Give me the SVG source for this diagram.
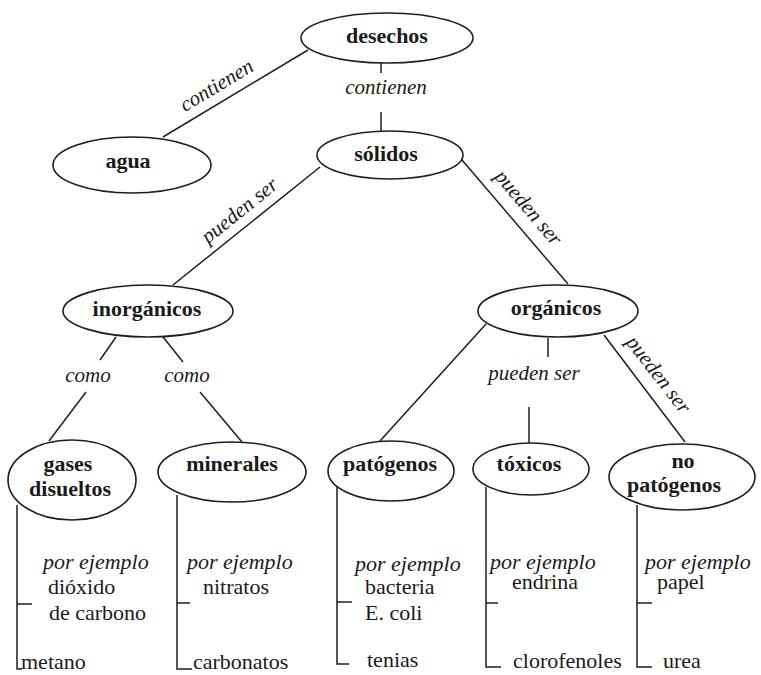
<svg xmlns="http://www.w3.org/2000/svg" width="761" height="675" viewBox="0 0 761 675" font-family="'Liberation Serif', 'DejaVu Serif', serif">
  <style>
    text { font-family: 'Liberation Serif', 'DejaVu Serif', serif; fill: #1a1a1a; }
    .node ellipse { fill: #ffffff; stroke: #1e1e1e; stroke-width: 1.6; }
    .node text { font-weight: bold; font-size: 22px; text-anchor: middle; }
    .links line, .links polyline { stroke: #1e1e1e; stroke-width: 1.5; fill: none; }
    .lbl { font-style: italic; font-size: 21px; text-anchor: middle; }
    .ex { font-style: italic; font-size: 22px; }
    .item { font-size: 22px; }
  </style>
  <rect width="761" height="675" fill="#ffffff"/>

  <!-- connectors and their labels -->
  <g id="connectors" class="links">
    <!-- desechos -> agua -->
    <line x1="308" y1="50" x2="163" y2="137"/>
    <text class="lbl" transform="translate(217,86) rotate(-31)" x="0" y="6">contienen</text>
    <!-- desechos -> sólidos -->
    <line x1="381" y1="63" x2="381" y2="73"/>
    <text class="lbl" x="386" y="94">contienen</text>
    <line x1="381" y1="112" x2="381" y2="132"/>
    <!-- sólidos -> inorgánicos -->
    <line x1="320" y1="167" x2="173" y2="285"/>
    <text class="lbl" transform="translate(240,211) rotate(-38.8)" x="0" y="6">pueden ser</text>
    <!-- sólidos -> orgánicos -->
    <line x1="462" y1="160" x2="568" y2="284"/>
    <text class="lbl" transform="translate(528,208) rotate(49.5)" x="0" y="6">pueden ser</text>
    <!-- inorgánicos -> gases disueltos -->
    <line x1="116" y1="337" x2="100" y2="360"/>
    <text class="lbl" x="88" y="382">como</text>
    <line x1="86" y1="392" x2="49" y2="441"/>
    <!-- inorgánicos -> minerales -->
    <line x1="163" y1="337" x2="183" y2="362"/>
    <text class="lbl" x="187" y="382">como</text>
    <line x1="200" y1="392" x2="242" y2="442"/>
    <!-- orgánicos -> patógenos -->
    <line x1="486" y1="324" x2="380" y2="441"/>
    <!-- orgánicos -> tóxicos -->
    <line x1="548" y1="338" x2="548" y2="357"/>
    <text class="lbl" x="534" y="380">pueden ser</text>
    <line x1="529" y1="407" x2="529" y2="443"/>
    <!-- orgánicos -> no patógenos -->
    <line x1="604" y1="335" x2="685" y2="442"/>
    <text class="lbl" transform="translate(658,375) rotate(52.5)" x="0" y="6">pueden ser</text>

    <!-- example brackets -->
    <polyline points="17,505 17,669 22,669"/>
    <line x1="17" y1="604" x2="32" y2="604"/>
    <polyline points="177,495 177,669 192,669"/>
    <line x1="177" y1="603" x2="190" y2="603"/>
    <polyline points="337,487 337,664 349,664"/>
    <line x1="337" y1="602" x2="352" y2="602"/>
    <polyline points="486,487 486,667 501,667"/>
    <line x1="486" y1="603" x2="498" y2="603"/>
    <polyline points="637,505 637,667 652,667"/>
    <line x1="637" y1="603" x2="652" y2="603"/>
  </g>

  <!-- nodes -->
  <g id="desechos" class="node">
    <ellipse cx="387" cy="38" rx="86" ry="25"/>
    <text x="387" y="43">desechos</text>
  </g>
  <g id="agua" class="node">
    <ellipse cx="132" cy="165" rx="79" ry="28"/>
    <text x="128" y="168">agua</text>
  </g>
  <g id="solidos" class="node">
    <ellipse cx="390" cy="155" rx="73" ry="24"/>
    <text x="386" y="161">sólidos</text>
  </g>
  <g id="inorganicos" class="node">
    <ellipse cx="148" cy="311" rx="85" ry="26"/>
    <text x="147" y="316">inorgánicos</text>
  </g>
  <g id="organicos" class="node">
    <ellipse cx="558" cy="311" rx="80" ry="26"/>
    <text x="556" y="315">orgánicos</text>
  </g>
  <g id="gases-disueltos" class="node">
    <ellipse cx="72" cy="480" rx="64" ry="40"/>
    <text x="68" y="471">gases</text>
    <text x="70" y="496">disueltos</text>
  </g>
  <g id="minerales" class="node">
    <ellipse cx="232" cy="472" rx="74" ry="30"/>
    <text x="232" y="471">minerales</text>
  </g>
  <g id="patogenos" class="node">
    <ellipse cx="391" cy="471" rx="63" ry="30"/>
    <text x="390" y="471">patógenos</text>
  </g>
  <g id="toxicos" class="node">
    <ellipse cx="531" cy="469" rx="58" ry="26"/>
    <text x="529" y="471">tóxicos</text>
  </g>
  <g id="no-patogenos" class="node">
    <ellipse cx="682" cy="477" rx="73" ry="33"/>
    <text x="683" y="468">no</text>
    <text x="674" y="492">patógenos</text>
  </g>

  <!-- examples -->
  <g id="ejemplos-gases">
    <text class="ex" x="43" y="569">por ejemplo</text>
    <text class="item" x="48" y="594">dióxido</text>
    <text class="item" x="49" y="620">de carbono</text>
    <text class="item" x="21" y="669">metano</text>
  </g>
  <g id="ejemplos-minerales">
    <text class="ex" x="187" y="569">por ejemplo</text>
    <text class="item" x="203" y="594">nitratos</text>
    <text class="item" x="193" y="669">carbonatos</text>
  </g>
  <g id="ejemplos-patogenos">
    <text class="ex" x="355" y="571">por ejemplo</text>
    <text class="item" x="365" y="594">bacteria</text>
    <text class="item" x="365" y="620">E. coli</text>
    <text class="item" x="367" y="667">tenias</text>
  </g>
  <g id="ejemplos-toxicos">
    <text class="ex" x="490" y="569">por ejemplo</text>
    <text class="item" x="512" y="589">endrina</text>
    <text class="item" x="513" y="668">clorofenoles</text>
  </g>
  <g id="ejemplos-no-patogenos">
    <text class="ex" x="645" y="569">por ejemplo</text>
    <text class="item" x="657" y="589">papel</text>
    <text class="item" x="663" y="668">urea</text>
  </g>
</svg>
